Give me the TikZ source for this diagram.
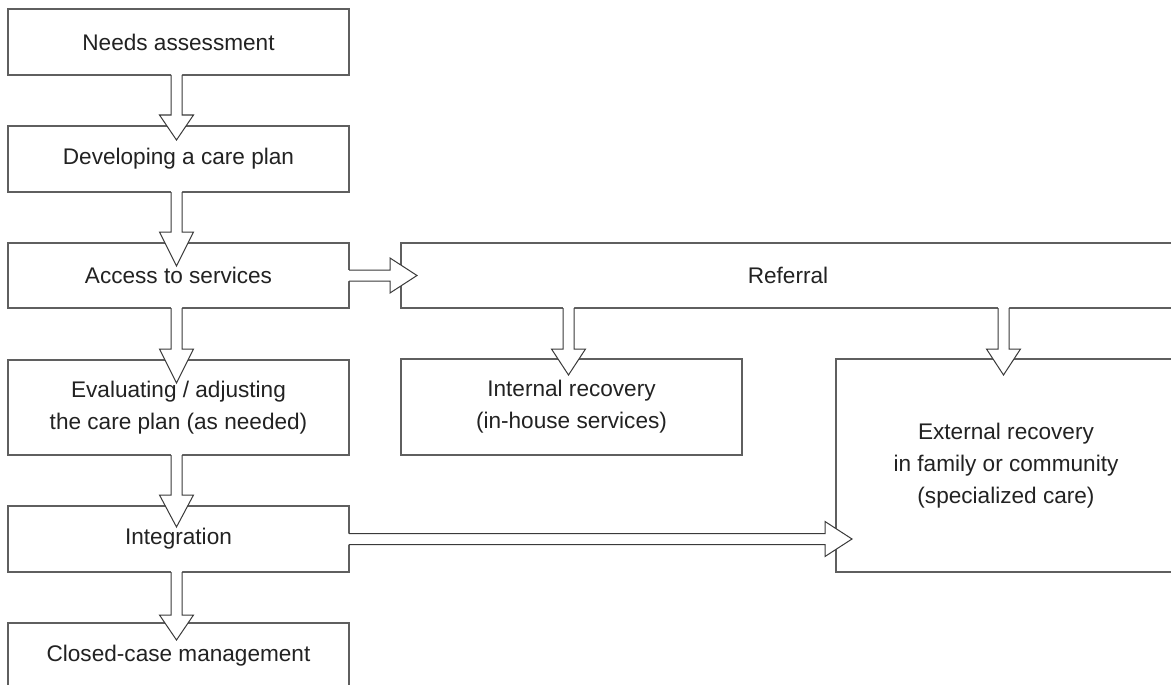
\documentclass[tikz,border=0pt]{standalone}
\usepackage{fontspec}
\setmainfont{Liberation Sans}
\usetikzlibrary{calc}
\definecolor{boxgray}{HTML}{5F5F5F}
\definecolor{arrowgray}{HTML}{3A3A3A}
\definecolor{textgray}{HTML}{222222}
\tikzset{
  box/.style={draw=boxgray, line width=1.5pt, rectangle, inner sep=0pt, outer sep=0pt,
    align=center, text=textgray, font=\fontsize{22.6}{32}\selectfont},
  blk/.style={draw=arrowgray, line width=1pt, line join=miter},
}
% vertical block arrow: #1 source point (shaft x), #2 target point (top), #3 tip depth, #4 head length
\newcommand\blkdown[4]{%
  \fill[white] let \p1=#1, \p2=#2 in
    (\x1-5.5pt,\y1+1.5pt) -- (\x1-5.5pt,\y2-#3pt+#4pt) -- (\x1-17pt,\y2-#3pt+#4pt)
    -- (\x1,\y2-#3pt) -- (\x1+17pt,\y2-#3pt+#4pt) -- (\x1+5.5pt,\y2-#3pt+#4pt)
    -- (\x1+5.5pt,\y1+1.5pt) -- cycle;
  \draw[blk] let \p1=#1, \p2=#2 in
    (\x1-5.5pt,\y1) -- (\x1-5.5pt,\y2-#3pt+#4pt) -- (\x1-17pt,\y2-#3pt+#4pt)
    -- (\x1,\y2-#3pt) -- (\x1+17pt,\y2-#3pt+#4pt) -- (\x1+5.5pt,\y2-#3pt+#4pt)
    -- (\x1+5.5pt,\y1);
}
% horizontal block arrow: #1 source point (shaft y), #2 target point (left), #3 tip depth, #4 head length
\newcommand\blkright[4]{%
  \fill[white] let \p1=#1, \p2=#2 in
    (\x1-1.5pt,\y1+5.5pt) -- (\x2+#3pt-#4pt,\y1+5.5pt) -- (\x2+#3pt-#4pt,\y1+17.5pt)
    -- (\x2+#3pt,\y1) -- (\x2+#3pt-#4pt,\y1-17.5pt) -- (\x2+#3pt-#4pt,\y1-5.5pt)
    -- (\x1-1.5pt,\y1-5.5pt) -- cycle;
  \draw[blk] let \p1=#1, \p2=#2 in
    (\x1,\y1+5.5pt) -- (\x2+#3pt-#4pt,\y1+5.5pt) -- (\x2+#3pt-#4pt,\y1+17.5pt)
    -- (\x2+#3pt,\y1) -- (\x2+#3pt-#4pt,\y1-17.5pt) -- (\x2+#3pt-#4pt,\y1-5.5pt)
    -- (\x1,\y1-5.5pt);
}
\begin{document}
\begin{tikzpicture}[x=1pt,y=-1pt]
\useasboundingbox (0,0) rectangle (1171,685);
\clip (0,0) rectangle (1171,685);
\fill[white] (0,0) rectangle (1171,685);
% left column
\node[box, minimum width=341pt, minimum height=66pt] (need) at (178.5,42) {Needs assessment};
\node[box, minimum width=341pt, minimum height=66pt] (dev) at (178.5,159) {Developing a care plan};
\node[box, minimum width=341pt, minimum height=65pt] (acc) at (178.5,275.5) {Access to services};
\node[box, minimum width=341pt, minimum height=95pt] (eval) at (178.5,407.5) {Evaluating / adjusting\\the care plan (as needed)};
\node[box, minimum width=341pt, minimum height=66pt] (integ) at (178.5,539) {Integration};
\node[box, minimum width=341pt, minimum height=66pt] (closed) at (178.5,656) {Closed-case management};
% right part
\node[box, minimum width=774pt, minimum height=65pt] (ref) at (788,275.5) {Referral};
\node[box, minimum width=341pt, minimum height=96pt] (intr) at (571.5,407) {Internal recovery\\(in-house services)};
\node[box, minimum width=340pt, minimum height=213pt] (ext) at (1006,465.5) {External recovery\\in family or community\\(specialized care)};
% arrows
\blkdown{([xshift=-2pt]need.south)}{(dev.north)}{14}{25}
\blkdown{([xshift=-2pt]dev.south)}{(acc.north)}{23}{34}
\blkdown{([xshift=-2pt]acc.south)}{(eval.north)}{23}{34}
\blkdown{([xshift=-2pt]eval.south)}{(integ.north)}{21}{32}
\blkdown{([xshift=-2pt]integ.south)}{(closed.north)}{17}{25}
\blkright{(acc.east)}{(ref.west)}{16}{27}
\blkright{(integ.east)}{(ext.west)}{16}{27}
\blkdown{([xshift=-219.5pt]ref.south)}{(intr.north)}{16}{26}
\blkdown{([xshift=215.5pt]ref.south)}{(ext.north)}{16}{26}
\end{tikzpicture}
\end{document}
